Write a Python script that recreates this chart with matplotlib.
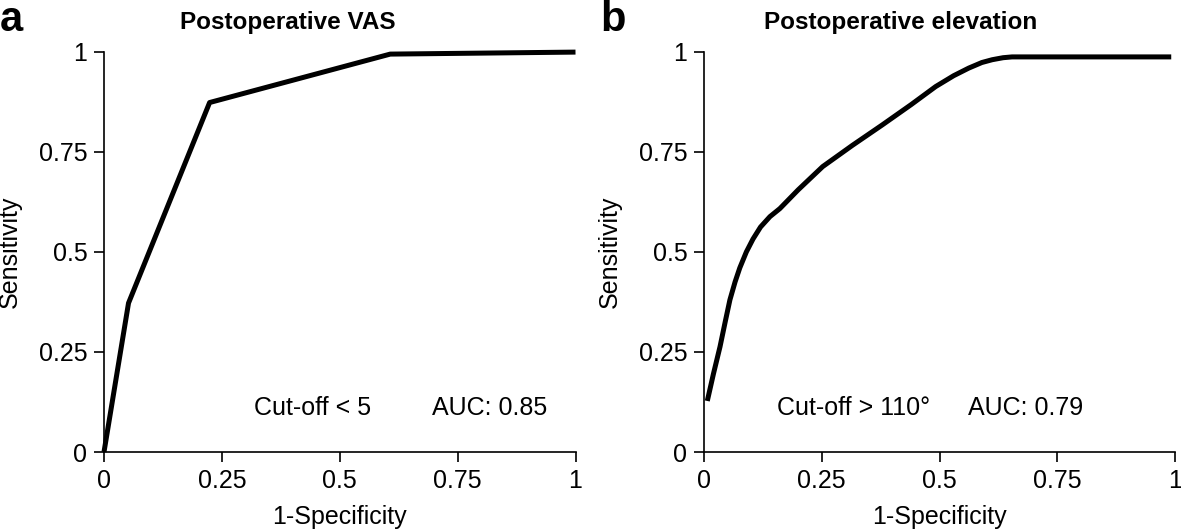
import matplotlib
matplotlib.use("Agg")
import matplotlib.pyplot as plt
import numpy as np

plt.rcParams['font.family'] = ['Liberation Sans', 'DejaVu Sans']

# Panel a: Postoperative VAS
vas_fpr = [0.0, 0.052, 0.224, 0.607, 1.0]
vas_tpr = [0.0, 0.372, 0.873, 0.994, 0.999]

# Panel b: Postoperative elevation
elev_fpr = [0.007, 0.020, 0.034, 0.045, 0.055, 0.066, 0.076, 0.090, 0.104,
            0.120, 0.140, 0.161, 0.200, 0.252, 0.315, 0.379, 0.440, 0.492,
            0.530, 0.562, 0.590, 0.612, 0.635, 0.654, 0.992]
elev_tpr = [0.1275, 0.195, 0.263, 0.325, 0.38, 0.425, 0.460, 0.500, 0.532,
            0.562, 0.588, 0.608, 0.655, 0.713, 0.766, 0.8175, 0.868, 0.913,
            0.940, 0.959, 0.973, 0.980, 0.985, 0.987, 0.987]

ticks = [0, 0.25, 0.5, 0.75, 1]
tick_labels = ["0", "0.25", "0.5", "0.75", "1"]

titles = ["Postoperative VAS", "Postoperative elevation"]
cutoffs = ["Cut-off < 5", "Cut-off > 110°"]
aucs = ["AUC: 0.85", "AUC: 0.79"]
letters = ["a", "b"]

W, H = 1181, 529
fig = plt.figure(figsize=(W / 100, H / 100), dpi=100)

def px_axes(x0, x1, ytop, ybot):
    return [x0 / W, (H - ybot) / H, (x1 - x0) / W, (ybot - ytop) / H]

ax_a = fig.add_axes(px_axes(104, 575.5, 51.7, 452))
ax_b = fig.add_axes(px_axes(704, 1175, 51.7, 452))

fs = 18
series = [(vas_fpr, vas_tpr), (elev_fpr, elev_tpr)]
title_x = [0.39, 0.418]
cut_x = [0.443, 0.317]
auc_x = [0.817, 0.682]
letter_x = [0 / W, 600 / W]

for i, ax in enumerate([ax_a, ax_b]):
    fx, fy = series[i]
    ax.plot(fx, fy, color="black", lw=3.6, solid_joinstyle="round",
            solid_capstyle="butt", clip_on=False)
    ax.set_xlim(0, 1)
    ax.set_ylim(0, 1)
    ax.set_xticks(ticks)
    ax.set_xticklabels(tick_labels)
    ax.set_yticks(ticks)
    ax.set_yticklabels(tick_labels)
    for s in ["top", "right"]:
        ax.spines[s].set_visible(False)
    for s in ["left", "bottom"]:
        ax.spines[s].set_linewidth(1.2)
    ax.tick_params(direction="out", length=7, width=1.2, labelsize=fs, pad=5)
    ax.set_xlabel("1-Specificity", fontsize=fs, labelpad=9)
    ax.set_ylabel("Sensitivity", fontsize=fs, labelpad=12)
    ax.text(title_x[i], 1.0725, titles[i], transform=ax.transAxes, ha="center",
            va="center", fontsize=17.5, fontweight="bold")
    ax.text(cut_x[i], 0.11, cutoffs[i], ha="center", va="center", fontsize=fs)
    ax.text(auc_x[i], 0.11, aucs[i], ha="center", va="center", fontsize=fs)
    fig.text(letter_x[i], 1 - 20 / H, letters[i], ha="left", va="center",
             fontsize=30, fontweight="bold")

fig.savefig("out.png", dpi=100)
